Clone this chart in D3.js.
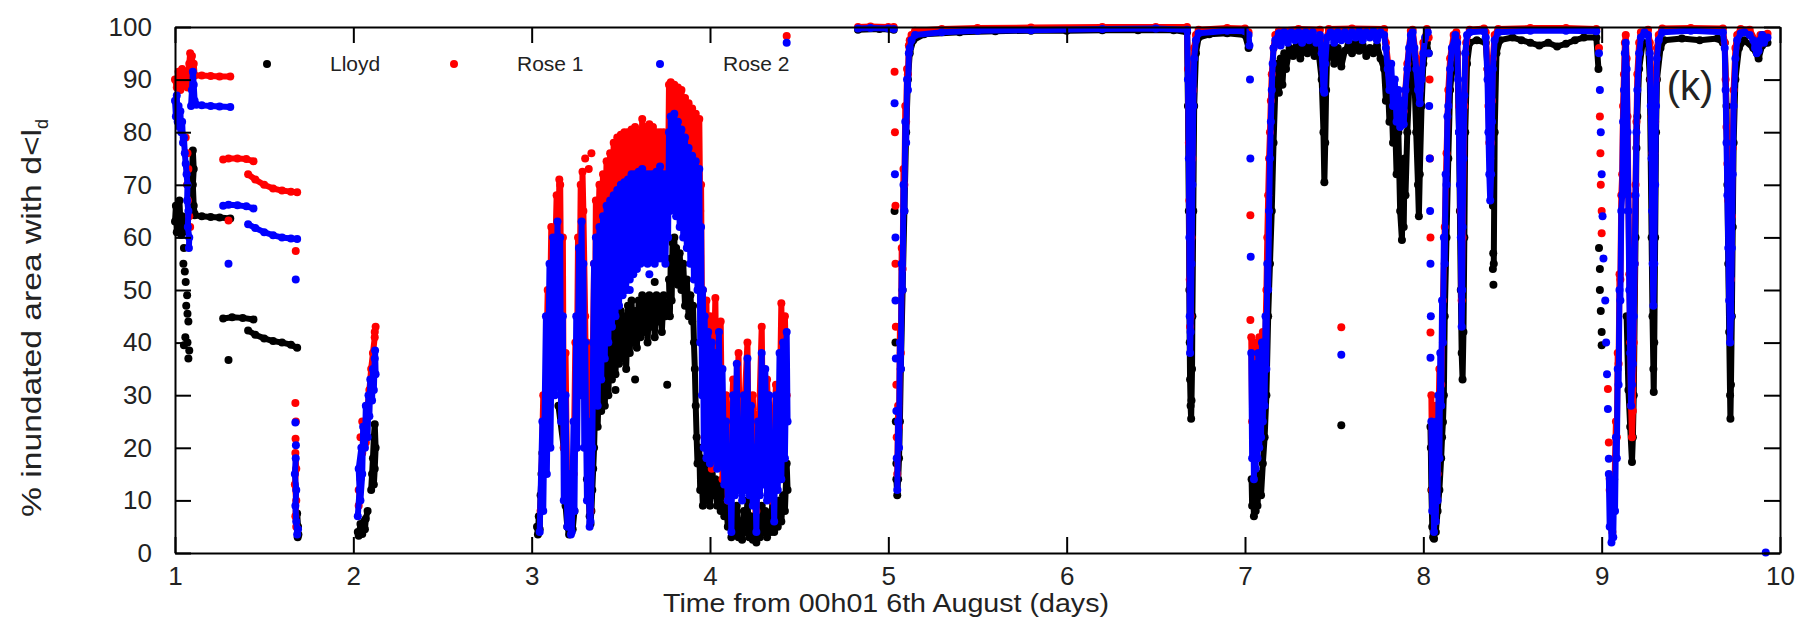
<!DOCTYPE html>
<html>
<head>
<meta charset="utf-8">
<script src="https://cdn.jsdelivr.net/npm/d3@7"></script>
<style>
  body { margin: 0; background: #fff; }
  text { font-family: "Liberation Sans", Arial, sans-serif; fill: #222; }
</style>
</head>
<body>
<svg width="1808" height="630"></svg>
<script>
// axis ticks
const xTicks = [1, 2, 3, 4, 5, 6, 7, 8, 9, 10];
const yTicks = [0, 10, 20, 30, 40, 50, 60, 70, 80, 90, 100];
const seriesNames = ["Lloyd", "Rose 1", "Rose 2"];

// each run is a flat list: day, value, day, value ... (consecutive samples)
const lloydRuns = [
  [1.00,63, 1.005,66, 1.01,61, 1.015,65, 1.02,62, 1.025,67, 1.03,63, 1.035,60.5, 1.04,64, 1.045,61, 1.05,63],
  [1.09,68.5, 1.095,72, 1.10,76.5, 1.105,73, 1.10,70, 1.105,66, 1.11,64.5],
  [1.11,64.2, 1.15,64, 1.2,63.9, 1.25,63.8, 1.31,63.6],
  [1.27,44.6, 1.32,44.8, 1.38,44.7, 1.44,44.4],
  [1.41,42.3, 1.45,41.5, 1.5,40.8, 1.55,40.3, 1.6,40, 1.65,39.6, 1.685,39],
  [1.685,7.5, 1.69,5, 1.688,3, 1.692,3.5],
  [2.025,4, 2.03,3.3, 2.04,5.5, 2.05,3.6, 2.06,6, 2.065,4.5, 2.07,6.5, 2.08,8],
  [2.10,12, 2.105,15, 2.11,18, 2.115,22, 2.12,24.5, 2.125,20, 2.12,16, 2.115,13],
  [3.03,5, 3.035,3.5, 3.04,7, 3.045,4.5, 3.05,11, 3.055,15, 3.06,19, 3.065,22, 3.07,26, 3.08,28],
  [3.15,28, 3.18,20, 3.19,9, 3.2,5, 3.21,3.5, 3.22,6, 3.225,10, 3.23,4.5, 3.24,8],
  [3.31,14, 3.32,11, 3.325,7, 3.33,5.5, 3.335,8, 3.34,12, 3.345,16, 3.35,20, 3.36,33, 3.37,24, 3.38,36, 3.39,27,
   3.40,35, 3.41,28, 3.42,40, 3.43,30, 3.44,42, 3.45,33, 3.46,45, 3.47,34, 3.48,44, 3.49,36, 3.50,46, 3.51,37,
   3.52,45, 3.53,35, 3.54,47, 3.55,38, 3.56,48, 3.57,40, 3.58,46, 3.59,39, 3.60,48, 3.61,41, 3.62,49, 3.63,42,
   3.64,48, 3.65,40, 3.66,49, 3.67,43, 3.68,48.5, 3.69,41, 3.70,49, 3.71,44, 3.72,48, 3.73,42, 3.74,49, 3.75,45, 3.76,47],
  [3.77,52, 3.775,45, 3.78,56, 3.785,48, 3.79,59, 3.795,52, 3.80,60, 3.805,53, 3.81,58, 3.82,51, 3.83,57, 3.84,50,
   3.85,55, 3.86,47, 3.87,52, 3.88,45, 3.89,49, 3.90,44, 3.905,47, 3.91,40, 3.915,35, 3.92,28, 3.925,22, 3.93,17],
  [3.94,20, 3.945,12, 3.95,18, 3.96,9, 3.97,17, 3.98,10, 3.99,16, 4.0,9, 4.01,15, 4.02,11, 4.03,14, 4.04,9, 4.05,13,
   4.06,8, 4.07,12, 4.08,7, 4.09,10, 4.1,5, 4.11,8, 4.12,3, 4.13,7, 4.14,4, 4.15,9, 4.16,3, 4.17,6, 4.18,2.5, 4.19,8,
   4.2,4, 4.21,10, 4.22,3, 4.23,7, 4.24,2.5, 4.25,5, 4.26,2, 4.27,6, 4.28,3, 4.29,9, 4.30,4, 4.31,8, 4.32,3, 4.33,7,
   4.34,4, 4.35,10, 4.36,4, 4.37,8, 4.38,5, 4.39,10, 4.4,6, 4.41,11, 4.42,8, 4.43,17, 4.435,12],
  [4.83,99.5, 4.95,99.6, 5.03,99.5],
  [5.045,14, 5.05,11, 5.055,14, 5.06,18, 5.065,25, 5.07,35, 5.08,50, 5.09,65, 5.10,80, 5.11,90, 5.12,95, 5.14,97.5,
   5.2,98.6, 5.4,99, 5.6,99.2, 5.8,99.3, 6.0,99.3, 6.2,99.4, 6.4,99.4, 6.6,99.4, 6.675,99, 6.68,85, 6.685,65,
   6.688,50, 6.69,40, 6.692,33, 6.695,28, 6.698,25.5, 6.70,29, 6.703,35, 6.705,45, 6.71,65, 6.715,85, 6.725,95,
   6.74,98, 6.8,98.6, 6.9,98.8, 7.0,98.5, 7.02,96],
  [7.037,14, 7.04,9, 7.045,13, 7.05,7, 7.055,12, 7.06,8, 7.065,14, 7.07,9, 7.08,15, 7.09,11, 7.10,17, 7.11,22,
   7.12,30, 7.13,45, 7.14,55, 7.15,65, 7.16,78, 7.17,88, 7.18,93, 7.19,87.5, 7.2,94, 7.21,89, 7.22,95, 7.23,92,
   7.25,96, 7.27,94.5, 7.29,96.5, 7.31,94, 7.33,96.5, 7.35,95, 7.37,97, 7.39,94.5, 7.41,96, 7.43,90, 7.44,80,
   7.445,70.5, 7.45,78, 7.455,88, 7.46,94, 7.48,96, 7.5,93, 7.52,96, 7.54,92.5, 7.56,95.5, 7.58,96.5, 7.6,95,
   7.62,97, 7.64,95.5, 7.66,96.5, 7.68,94.5, 7.70,96, 7.72,95, 7.74,96.5, 7.76,94, 7.78,92, 7.79,86, 7.80,90,
   7.81,82, 7.82,88, 7.83,78, 7.84,84, 7.85,72, 7.86,80, 7.87,65, 7.88,59.5, 7.885,70, 7.89,62, 7.895,75, 7.9,68,
   7.91,80, 7.92,88, 7.93,95, 7.94,97, 7.95,90, 7.96,80, 7.97,70, 7.975,64, 7.98,72, 7.99,85, 8.0,93, 8.02,97, 8.03,95],
  [8.04,24, 8.042,20, 8.045,12, 8.05,5, 8.055,3, 8.06,2.7, 8.065,6, 8.07,4, 8.08,8, 8.09,12, 8.10,18, 8.105,22,
   8.11,24.9, 8.115,30, 8.12,45, 8.13,60, 8.14,75, 8.15,88, 8.17,95, 8.19,95, 8.2,80, 8.205,65, 8.21,50, 8.215,38,
   8.22,33, 8.225,42, 8.23,60, 8.235,80, 8.245,93, 8.26,97, 8.3,97.5, 8.35,97, 8.36,92, 8.37,85, 8.38,78, 8.385,72, 8.39,66],
  [8.395,55, 8.4,80, 8.41,95, 8.43,97.5, 8.5,98, 8.55,97.5, 8.6,97, 8.65,96.5, 8.7,97, 8.75,96.3, 8.8,96.8,
   8.85,97.5, 8.9,98, 8.97,98, 8.982,92],
  [9.14,45, 9.15,31, 9.16,24, 9.17,17.3, 9.175,22, 9.18,30, 9.19,60, 9.195,77, 9.2,83, 9.21,92, 9.23,97, 9.26,97,
   9.27,90, 9.28,60, 9.285,45, 9.29,35, 9.292,30.6, 9.295,40, 9.3,60, 9.305,80, 9.31,90, 9.33,96, 9.35,97.5,
   9.45,97.8, 9.55,97.5, 9.65,97.8, 9.68,97, 9.69,97, 9.7,85, 9.705,70, 9.71,55, 9.715,42, 9.72,30, 9.722,25.5,
   9.725,32, 9.73,45, 9.735,62, 9.74,78, 9.75,90, 9.77,96, 9.8,97.5, 9.85,96, 9.88,94, 9.9,96.5, 9.93,97]
];
// isolated samples: day, value ...
const lloydDots = [1.05,58, 1.047,55, 1.055,53.5, 1.06,51.5, 1.068,49, 1.063,47, 1.07,45.5, 1.075,44, 1.058,41,
  1.07,40, 1.08,38.5, 1.075,37, 1.05,39.5, 1.30,36.7, 3.76,32, 3.47,31, 3.69,51.5, 3.58,33, 5.035,65, 5.04,40,
  5.042,25, 5.045,17, 7.54,24.3, 8.392,57, 8.39,54, 8.393,51, 8.985,58, 8.99,54, 8.99,50, 8.995,46, 9.0,42, 9.0,39.5];

const rose1Runs = [
  [1.00,90, 1.01,88.5, 1.02,91.5, 1.03,88, 1.04,92, 1.05,89, 1.06,91.5, 1.07,88.5, 1.08,93, 1.085,95, 1.09,91,
   1.095,94.5, 1.10,90.5, 1.105,93, 1.11,90.8, 1.15,90.8, 1.2,90.7, 1.25,90.6, 1.31,90.6],
  [1.27,74.8, 1.3,75, 1.35,75, 1.4,74.9, 1.44,74.5],
  [1.41,72, 1.45,71, 1.5,70, 1.55,69.3, 1.6,68.9, 1.65,68.7, 1.685,68.6],
  [1.675,19, 1.68,16, 1.672,13, 1.68,10, 1.675,7, 1.68,5],
  [2.03,9, 2.04,14, 2.05,19, 2.06,24, 2.07,21, 2.08,28, 2.09,31, 2.1,35, 2.11,38, 2.12,41, 2.125,43, 2.12,42],
  [3.05,8, 3.065,30, 3.07,15, 3.09,50, 3.095,28, 3.11,62, 3.12,40, 3.14,68, 3.15,55, 3.155,71, 3.16,70, 3.165,50,
   3.175,60, 3.18,20, 3.19,38, 3.2,10, 3.215,6],
  [3.235,15, 3.245,40, 3.25,20, 3.26,60, 3.265,35, 3.275,70, 3.28,50, 3.285,72.5, 3.29,65, 3.3,45, 3.305,30,
   3.31,40, 3.32,12, 3.33,8, 3.34,30, 3.35,55, 3.355,40, 3.36,67, 3.37,56, 3.38,70, 3.39,58, 3.40,72, 3.41,60,
   3.42,74.5, 3.43,62, 3.44,76, 3.45,63, 3.46,78, 3.47,64, 3.48,79, 3.49,65, 3.50,79.5, 3.51,66, 3.52,80, 3.53,67,
   3.54,80, 3.55,68, 3.56,80.5, 3.57,69, 3.58,81, 3.59,69, 3.60,80, 3.61,70, 3.62,82.5, 3.63,70, 3.64,81, 3.65,71,
   3.66,81.5, 3.67,71, 3.68,81, 3.69,70, 3.70,80, 3.71,71, 3.72,80, 3.73,71, 3.74,80, 3.75,70, 3.76,79, 3.765,72,
   3.77,89, 3.775,78, 3.78,89.5, 3.79,80, 3.80,89, 3.81,81, 3.82,88.5, 3.83,80, 3.84,88, 3.85,79, 3.86,86.5,
   3.87,77, 3.88,85.5, 3.89,75, 3.90,84.5, 3.91,73, 3.92,83.5, 3.93,71, 3.94,82.5, 3.945,65, 3.95,70, 3.955,45,
   3.96,50, 3.97,22, 3.98,48, 3.99,18, 4.0,45, 4.01,16, 4.03,48.5, 4.04,18, 4.06,44, 4.07,14, 4.09,30, 4.1,10,
   4.13,33, 4.14,12, 4.16,38, 4.17,12, 4.21,40, 4.22,12, 4.24,30, 4.26,8, 4.29,43, 4.30,14, 4.32,33, 4.34,10,
   4.37,32, 4.385,15, 4.40,47.5, 4.41,20, 4.42,45, 4.43,30],
  [4.83,100, 4.9,100.1, 5.0,100, 5.03,100],
  [5.05,15, 5.055,28, 5.06,24, 5.065,43, 5.07,38, 5.075,58, 5.08,54, 5.085,73, 5.09,70, 5.095,85, 5.1,82,
   5.105,92, 5.11,91, 5.115,96.5, 5.12,97.5, 5.13,98.5, 5.15,99.3, 5.3,99.6, 5.5,99.8, 5.8,99.9, 6.2,100, 6.5,100,
   6.675,100, 6.68,92, 6.685,78, 6.688,67, 6.69,52, 6.692,43, 6.695,45, 6.70,60, 6.705,75, 6.71,88, 6.715,96,
   6.725,98.5, 6.74,99.5, 6.9,99.8, 7.0,99.7, 7.02,99],
  [7.035,41, 7.04,25, 7.045,38, 7.05,20, 7.06,40, 7.07,22, 7.08,41, 7.09,28, 7.10,42, 7.11,35, 7.12,50, 7.125,60,
   7.13,68, 7.135,75, 7.14,80, 7.145,86, 7.15,91, 7.16,96, 7.17,98.5, 7.19,99.3, 7.3,99.6, 7.42,99.5, 7.44,92,
   7.45,97, 7.47,99.6, 7.6,99.7, 7.78,99.6, 7.79,97, 7.81,91, 7.83,89, 7.85,86, 7.87,84, 7.89,84, 7.91,93,
   7.93,99.3, 7.94,99.5, 7.96,94, 7.98,88, 8.0,97, 8.02,99.6, 8.03,98],
  [8.045,30, 8.05,12, 8.06,22, 8.065,8, 8.07,28, 8.08,15, 8.09,35, 8.10,32, 8.11,48, 8.12,62, 8.13,76, 8.14,88,
   8.15,94, 8.17,98.5, 8.185,99, 8.19,98, 8.2,85, 8.21,65, 8.215,48, 8.22,60, 8.23,85, 8.24,97, 8.26,99.5,
   8.34,99.7, 8.35,99, 8.36,92, 8.365,85, 8.37,78, 8.375,75, 8.38,78, 8.385,86, 8.39,94, 8.4,98.5, 8.42,99.6,
   8.6,99.8, 8.8,99.8, 8.97,99.6],
  [9.045,12, 9.05,5, 9.055,10, 9.06,4, 9.065,12, 9.07,8, 9.075,18, 9.08,25, 9.085,22, 9.09,38, 9.095,36, 9.10,53,
   9.105,52, 9.11,68, 9.115,72, 9.12,85, 9.125,91, 9.13,97, 9.135,98.5, 9.14,94, 9.145,83, 9.15,68, 9.155,53,
   9.16,40, 9.165,28, 9.17,22, 9.175,27, 9.18,40, 9.185,55, 9.19,70, 9.195,82, 9.2,91, 9.21,97, 9.22,99, 9.26,99.5,
   9.27,97, 9.275,90, 9.28,83, 9.285,76, 9.29,70, 9.295,76, 9.3,82, 9.305,90, 9.31,96, 9.32,98.5, 9.34,99.7,
   9.5,99.8, 9.68,99.7, 9.69,97, 9.695,90, 9.7,81, 9.705,74, 9.71,67, 9.715,58, 9.72,48, 9.725,52, 9.73,64,
   9.735,77, 9.74,88, 9.75,96, 9.76,98.5, 9.78,99.6, 9.83,99.5, 9.86,97.5, 9.87,96.5, 9.88,96.5, 9.89,98.5,
   9.91,98.5, 9.93,98.7]
];
const rose1Dots = [1.06,79, 1.07,76, 1.075,73, 1.068,70, 1.072,67, 1.08,64, 1.085,62, 1.30,63.2, 1.677,57.4,
  1.675,28.5, 1.678,25, 1.676,21.7, 2.035,16, 2.04,22, 2.03,12, 2.05,25, 3.30,75, 3.335,76, 3.32,73, 4.43,98.3,
  5.035,91.5, 5.037,80, 5.04,66, 5.04,55, 5.042,43, 5.045,32, 5.047,22, 7.03,64.2, 7.03,44.3, 7.54,42.9,
  8.035,90, 8.037,75, 8.04,60, 8.04,41.9, 8.985,96, 8.99,83, 8.993,76, 8.995,70, 9.0,65, 9.0,60.8, 9.035,31.2,
  9.04,21, 9.045,14.1];

const rose2Runs = [
  [1.00,86, 1.005,83, 1.01,87, 1.015,82, 1.02,85, 1.025,81, 1.03,84, 1.035,80, 1.04,82, 1.045,78, 1.05,79,
   1.055,76, 1.06,74, 1.065,72, 1.07,70, 1.068,67, 1.075,65, 1.072,62, 1.08,60, 1.078,58],
  [1.09,85, 1.095,88, 1.10,91.5, 1.105,89, 1.11,86, 1.12,85.2, 1.15,85.1, 1.2,85, 1.25,84.9, 1.31,84.8],
  [1.27,66, 1.3,66.2, 1.35,66.1, 1.4,65.9, 1.44,65.5],
  [1.41,62.5, 1.45,61.8, 1.5,61, 1.55,60.4, 1.6,60, 1.65,59.8, 1.685,59.7],
  [1.677,18, 1.672,15, 1.68,12, 1.675,9, 1.68,6, 1.685,3.5, 1.69,4.5],
  [2.025,7, 2.035,12, 2.03,16, 2.045,20, 2.04,10, 2.05,15, 2.055,24, 2.065,20, 2.07,28, 2.08,22, 2.085,30,
   2.09,26, 2.095,33, 2.105,29, 2.11,35, 2.115,31, 2.12,37, 2.125,34, 2.122,38.5],
  [3.045,4, 3.06,25, 3.065,8, 3.08,45, 3.085,15, 3.1,55, 3.105,20, 3.12,60, 3.13,30, 3.145,63, 3.15,35, 3.16,60,
   3.165,25, 3.175,45, 3.18,10, 3.19,30, 3.2,5, 3.21,15, 3.22,3.5],
  [3.225,4, 3.235,25, 3.24,8, 3.25,45, 3.255,20, 3.265,58, 3.27,30, 3.28,63, 3.285,40, 3.29,55, 3.295,20, 3.30,40,
   3.31,10, 3.315,25, 3.325,5, 3.33,6, 3.34,20, 3.345,40, 3.35,55, 3.355,30, 3.36,60, 3.37,28, 3.38,62, 3.39,33,
   3.40,64, 3.41,37, 3.42,66, 3.43,40, 3.44,67, 3.45,43, 3.46,68, 3.47,45, 3.48,69, 3.49,47, 3.50,70, 3.51,49,
   3.52,70.5, 3.53,50, 3.54,71, 3.55,52, 3.56,72, 3.57,53, 3.58,72, 3.59,54, 3.60,72.5, 3.61,55, 3.62,73, 3.63,56,
   3.64,72, 3.65,55, 3.66,72, 3.67,56, 3.68,72, 3.69,55, 3.70,72.5, 3.71,56, 3.72,73.5, 3.73,56, 3.74,72, 3.75,55,
   3.76,72, 3.765,60, 3.77,80, 3.775,65, 3.78,83, 3.79,66, 3.80,83.5, 3.81,64, 3.82,82, 3.83,62, 3.84,80.5,
   3.85,60, 3.86,79, 3.87,58, 3.88,77, 3.89,55, 3.90,75.5, 3.91,52, 3.92,74.5, 3.93,50, 3.94,73, 3.945,40,
   3.95,62, 3.955,30, 3.96,50, 3.965,20, 3.97,45, 3.98,18, 3.99,42, 4.0,17, 4.01,40, 4.02,18, 4.03,38, 4.04,16,
   4.05,42, 4.06,17, 4.07,35, 4.08,13, 4.09,25, 4.1,10, 4.11,20, 4.12,4, 4.13,30, 4.14,11, 4.15,36, 4.16,12,
   4.17,25, 4.18,10, 4.19,30, 4.2,12, 4.21,37, 4.22,11, 4.23,28, 4.24,9, 4.25,20, 4.26,4, 4.27,25, 4.28,11, 4.29,38,
   4.30,13, 4.31,35, 4.32,10, 4.33,30, 4.34,11, 4.35,20, 4.36,6, 4.37,30, 4.38,12, 4.39,38, 4.4,14, 4.41,40,
   4.42,18, 4.43,42, 4.435,25],
  [4.83,99.7, 4.9,99.8, 5.0,99.7, 5.03,99.6],
  [5.05,12, 5.055,25, 5.06,20, 5.065,40, 5.07,35, 5.075,55, 5.08,50, 5.085,70, 5.09,65, 5.095,82, 5.1,78,
   5.105,90, 5.11,88, 5.115,95, 5.12,96, 5.13,97.5, 5.15,98.5, 5.3,99, 5.5,99.3, 5.8,99.4, 6.2,99.6, 6.5,99.7,
   6.675,99.5, 6.68,90, 6.685,75, 6.688,60, 6.69,45, 6.692,38, 6.695,42, 6.70,55, 6.705,70, 6.71,85, 6.715,94,
   6.725,97.5, 6.74,98.8, 6.9,99.3, 7.0,99.2, 7.02,98.5, 7.025,96.5],
  [7.035,38, 7.04,18, 7.045,35, 7.05,14, 7.055,33, 7.06,16, 7.065,36, 7.07,18, 7.075,38, 7.08,20, 7.085,37,
   7.09,22, 7.095,40, 7.10,25, 7.105,40, 7.11,28, 7.115,45, 7.12,35, 7.125,55, 7.13,50, 7.135,65, 7.14,75,
   7.145,82, 7.15,88, 7.155,93, 7.16,96, 7.17,97.5, 7.19,98.8, 7.2,96.5, 7.22,99, 7.24,97, 7.26,99, 7.28,97.5,
   7.3,99, 7.32,97, 7.34,99, 7.36,97.5, 7.38,99, 7.40,97, 7.42,98.5, 7.43,95, 7.44,88, 7.445,87.5, 7.45,93,
   7.46,98, 7.48,99, 7.5,97, 7.52,99, 7.54,97.5, 7.56,99, 7.58,97.5, 7.6,99, 7.62,98, 7.64,99.2, 7.66,97.5,
   7.68,99, 7.7,98, 7.72,99.2, 7.74,97.5, 7.76,99, 7.78,98.5, 7.79,96, 7.80,92, 7.81,88, 7.82,93, 7.83,85,
   7.84,90, 7.85,82, 7.86,88, 7.87,81, 7.88,86, 7.89,81.5, 7.90,88, 7.91,92, 7.92,96, 7.93,98.5, 7.94,99,
   7.95,96, 7.96,92, 7.97,88, 7.98,85.5, 7.99,90, 8.0,95, 8.01,98, 8.025,99],
  [8.045,25, 8.05,8, 8.055,20, 8.06,4, 8.065,18, 8.07,6, 8.075,25, 8.08,10, 8.085,30, 8.09,18, 8.095,38, 8.10,28,
   8.105,48, 8.11,40, 8.115,60, 8.12,55, 8.125,72, 8.13,70, 8.135,83, 8.14,85, 8.15,92, 8.16,96, 8.18,98.5,
   8.19,97, 8.195,90, 8.2,80, 8.205,70, 8.21,60, 8.213,50, 8.215,43, 8.218,50, 8.22,62, 8.225,75, 8.23,87,
   8.235,95, 8.245,98.5, 8.26,99, 8.34,99.2, 8.35,98, 8.36,90, 8.365,80, 8.37,72, 8.375,67, 8.38,72, 8.385,82,
   8.39,92, 8.4,97.5, 8.42,99, 8.6,99.3, 8.8,99.3, 8.97,99.2],
  [9.04,15, 9.045,5, 9.05,12, 9.055,2, 9.06,10, 9.065,3, 9.07,14, 9.075,8, 9.08,22, 9.085,18, 9.09,35, 9.095,32,
   9.1,50, 9.105,48, 9.11,65, 9.115,68, 9.12,82, 9.125,88, 9.13,95, 9.135,97, 9.14,92, 9.145,80, 9.15,65,
   9.155,50, 9.16,38, 9.165,28, 9.17,32, 9.175,36, 9.18,45, 9.185,55, 9.19,68, 9.195,80, 9.2,88, 9.21,95, 9.22,98,
   9.24,99, 9.26,98.5, 9.27,95, 9.275,85, 9.28,75, 9.283,65, 9.286,55, 9.29,47, 9.295,55, 9.3,70, 9.305,85,
   9.31,94, 9.32,97.5, 9.34,99, 9.5,99.3, 9.68,99, 9.69,96, 9.695,88, 9.7,78, 9.705,68, 9.71,58, 9.715,48,
   9.72,40, 9.725,45, 9.73,58, 9.735,72, 9.74,85, 9.75,94, 9.76,97.5, 9.78,98.8, 9.8,99, 9.83,98.5, 9.85,97.5,
   9.86,96, 9.87,95, 9.88,95.5, 9.89,97.5, 9.9,98.5, 9.91,97, 9.93,98]
];
const rose2Dots = [1.30,55, 1.677,52, 1.675,24.8, 1.678,20.5, 3.45,47, 3.55,50, 3.66,53, 4.43,97,
  5.035,85.5, 5.037,72, 5.04,60, 5.04,48, 5.042,37, 5.045,27, 5.047,18, 7.028,90, 7.03,75, 7.032,56.3, 7.54,37.7,
  8.03,95, 8.033,85, 8.036,75, 8.038,65, 8.04,55, 8.042,45, 8.04,37.1, 8.985,95, 8.99,88, 8.995,80, 9.0,72,
  9.005,64, 9.01,56, 9.02,48, 9.025,40, 9.03,34, 9.035,27.4, 9.04,17.9, 9.92,0.1];

// SVG要素の設定
const svg = d3.select("svg"),
    margin = { top: 27, right: 28, bottom: 77, left: 175 },
    width = +svg.attr("width") - margin.left - margin.right,
    height = +svg.attr("height") - margin.top - margin.bottom,
    g = svg.append("g").attr("transform", `translate(${margin.left},${margin.top})`);

const x = d3.scaleLinear().domain([1, 10]).range([0, width]);
const y = d3.scaleLinear().domain([0, 100]).range([height, 0]);

const pairs = flat => d3.range(0, flat.length, 2).map(i => [flat[i], flat[i + 1]]);

const series = [
    { name: seriesNames[0], color: "#000000", runs: lloydRuns, dots: lloydDots },
    { name: seriesNames[1], color: "#ff0000", runs: rose1Runs, dots: rose1Dots },
    { name: seriesNames[2], color: "#0000ff", runs: rose2Runs, dots: rose2Dots }
];

const line = d3.line().x(d => x(d[0])).y(d => y(d[1]));

// 点を描画 (Lloyd -> Rose 1 -> Rose 2 の順)
series.forEach(s => {
    const layer = g.append("g").attr("class", "series");
    const runs = s.runs.map(pairs);
    layer.selectAll("path")
        .data(runs)
        .enter().append("path")
        .attr("d", line)
        .attr("fill", "none")
        .attr("stroke", s.color)
        .attr("stroke-width", 6)
        .attr("stroke-linejoin", "round")
        .attr("stroke-linecap", "round");
    layer.selectAll("circle")
        .data(runs.flat().concat(pairs(s.dots)))
        .enter().append("circle")
        .attr("cx", d => x(d[0]))
        .attr("cy", d => y(d[1]))
        .attr("r", 4)
        .attr("fill", s.color);
});

// 軸 (内向きの目盛り)
const styleAxis = sel => {
    sel.select(".domain").attr("stroke", "#000").attr("stroke-width", 2);
    sel.selectAll(".tick line").attr("stroke", "#000").attr("stroke-width", 2);
    sel.selectAll("text").attr("font-size", 26).attr("fill", "#222")
        .attr("font-family", "'Liberation Sans', Arial, sans-serif");
};

g.append("g")
    .attr("transform", `translate(0,${height})`)
    .call(d3.axisBottom(x).tickValues(xTicks).tickSize(-16).tickSizeOuter(0).tickPadding(14).tickFormat(d3.format("d")))
    .call(styleAxis);

g.append("g")
    .call(d3.axisLeft(y).tickValues(yTicks).tickSize(-16).tickSizeOuter(0).tickPadding(23))
    .call(styleAxis);

g.append("g")
    .call(d3.axisTop(x).tickValues(xTicks).tickSize(-16).tickSizeOuter(0).tickFormat(""))
    .call(styleAxis);

g.append("g")
    .attr("transform", `translate(${width},0)`)
    .call(d3.axisRight(y).tickValues(yTicks).tickSize(-16).tickSizeOuter(0).tickFormat(""))
    .call(styleAxis);

// 凡例
const legendDotX = [267, 454, 660];
const legend = svg.append("g");
series.forEach((s, i) => {
    legend.append("circle").attr("cx", legendDotX[i]).attr("cy", 64).attr("r", 4).attr("fill", s.color);
    legend.append("text")
        .attr("x", legendDotX[i] + 63)
        .attr("y", 71)
        .attr("font-size", 21)
        .attr("fill", "#333")
        .text(s.name);
});

// 軸ラベル
svg.append("text")
    .attr("x", 886)
    .attr("y", 612)
    .attr("text-anchor", "middle")
    .attr("font-size", 25)
    .attr("textLength", 446)
    .attr("lengthAdjust", "spacingAndGlyphs")
    .text("Time from 00h01 6th August (days)");

const yTitle = svg.append("text")
    .attr("transform", "translate(41,318) rotate(-90)")
    .attr("text-anchor", "middle")
    .attr("font-size", 27);
yTitle.append("tspan")
    .attr("textLength", 388)
    .attr("lengthAdjust", "spacingAndGlyphs")
    .text("% inundated area with d<l");
yTitle.append("tspan").attr("font-size", 18).attr("dy", 7).text("d");

svg.append("text")
    .attr("x", 1690)
    .attr("y", 100)
    .attr("text-anchor", "middle")
    .attr("font-size", 40)
    .attr("font-family", "Lato, 'Open Sans', sans-serif")
    .attr("fill", "#000")
    .text("(k)");
</script>
</body>
</html>
